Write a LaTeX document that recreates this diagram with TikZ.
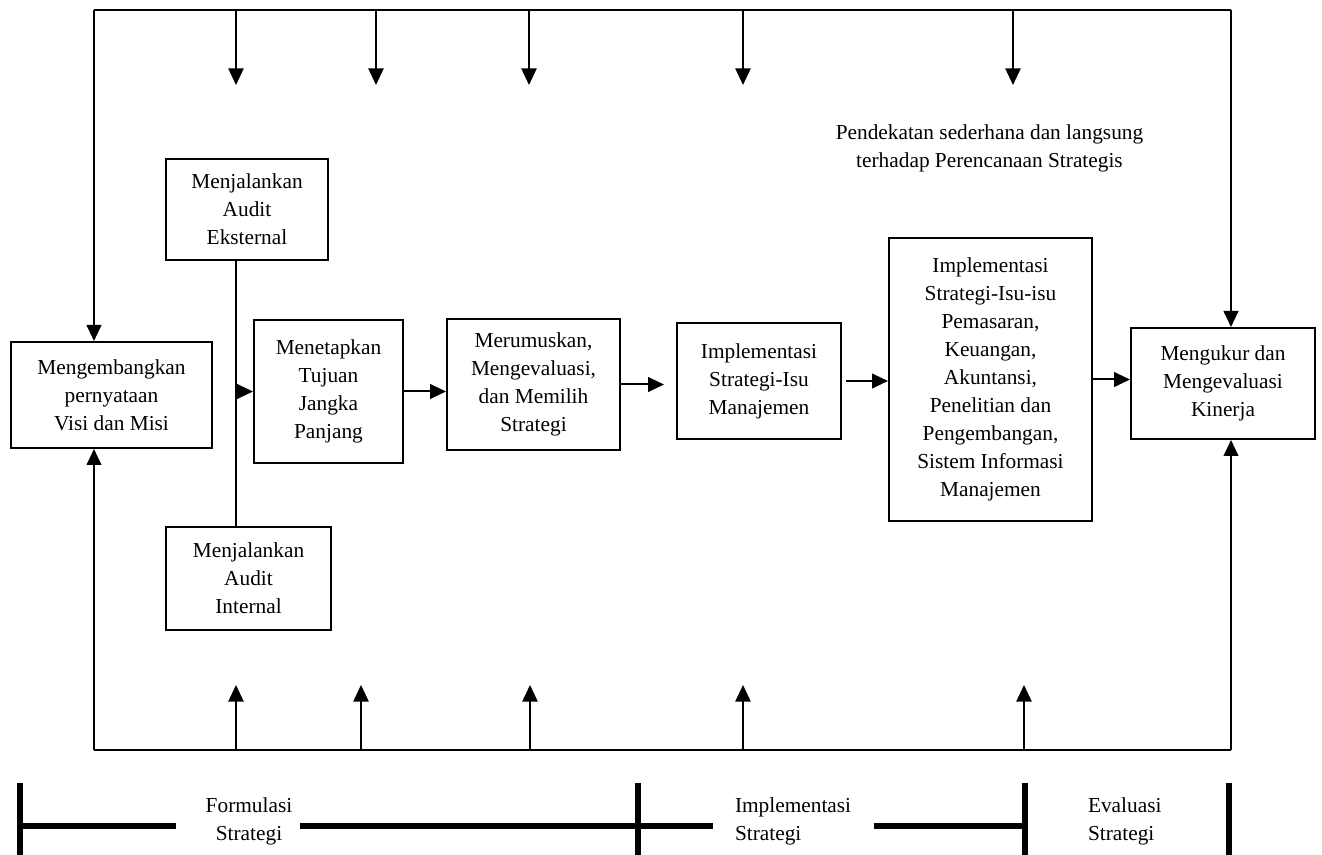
\documentclass[tikz,border=0pt]{standalone}
\usepackage{fontspec}
\setmainfont{Liberation Serif}
\usetikzlibrary{arrows.meta}

\begin{document}
\begin{tikzpicture}[x=0.75pt, y=-0.75pt, line width=1.5pt]

		%文字の大きさ
		\fontsize{16}{21}\selectfont
		\useasboundingbox (0,0) rectangle (1322,855); %余白ごと大きさを決める
		\tikzset{
			styleBox/.style 2 args={
				draw, align=center, inner sep=2pt, line width=1.5pt,
				minimum width={0.75pt*#1}, minimum height={0.75pt*#2}
			},		%四角の箱 (幅, 高さ)
			styleArrow/.style={-{Triangle[length=12pt, width=11pt]}},
			styleThinArrow/.style={line width=1.2pt, -{Triangle[length=12.5pt, width=11.5pt]}},
			styleBar/.style={line width=4pt}
		};

		%外枠の角
		\coordinate (tl) at (94, 10);
		\coordinate (tr) at (1231, 10);
		\coordinate (bl) at (94, 750);
		\coordinate (br) at (1231, 750);

		%箱を書く(中心に名前をつける)
		\node [styleBox={201}{106}] (visi) at (111.5, 395)
			{Mengembangkan\\pernyataan\\Visi dan Misi};
		\node [styleBox={162}{101}] (ekst) at (247, 209.5)
			{Menjalankan\\Audit\\Eksternal};
		\node [styleBox={165}{103}] (intern) at (248.5, 578.5)
			{Menjalankan\\Audit\\Internal};
		\node [styleBox={149}{143}] (tujuan) at (328.5, 391.5)
			{Menetapkan\\Tujuan\\Jangka\\Panjang};
		\node [styleBox={173}{131}] (rumus) at (533.5, 384.5)
			{Merumuskan,\\Mengevaluasi,\\dan Memilih\\Strategi};
		\node [styleBox={164}{116}] (manaj) at (759, 381)
			{Implementasi\\Strategi-Isu\\Manajemen};
		\node [styleBox={203}{283}] (fungsi) at (990.5, 379.5)
			{Implementasi\\Strategi-Isu-isu\\Pemasaran,\\Keuangan,\\Akuntansi,\\Penelitian dan\\Pengembangan,\\Sistem Informasi\\Manajemen};
		\node [styleBox={184}{111}] (ukur) at (1223, 383.5)
			{Mengukur dan\\Mengevaluasi\\Kinerja};

		%説明の文
		\node [align=center] (pendekatan) at (989.5, 148)
			{Pendekatan sederhana dan langsung\\terhadap Perencanaan Strategis};

		%外枠
		\draw (tl) -- (tr);
		\draw (bl) -- (br);
		\draw [styleArrow] (tl) -- (tl |- visi.north);
		\draw [styleArrow] (bl) -- (bl |- visi.south);
		\draw [styleArrow] (tr) -- (tr |- ukur.north);
		\draw [styleArrow] (br) -- (br |- ukur.south);

		%上の矢印と下の矢印
		\foreach \x in {236, 376, 529, 743, 1013} {
			\coordinate (top\x) at (\x, 85);
			\draw [styleThinArrow] (tl -| top\x) -- (top\x);
		}
		\foreach \x in {236, 361, 530, 743, 1024} {
			\coordinate (bot\x) at (\x, 685);
			\draw [styleThinArrow] (bl -| bot\x) -- (bot\x);
		}

		%監査の線
		\coordinate (audit) at (236, 391.5);
		\draw (audit |- ekst.south) -- (audit |- intern.north);
		\draw [styleArrow] (audit) -- (tujuan.west);

		%流れの矢印
		\draw [styleArrow] (tujuan.east) -- (tujuan.east -| rumus.west);
		\draw [styleArrow] (rumus.east) -- ++(43, 0);
		\draw [styleArrow] ([xshift=3pt]manaj.east) -- (manaj.east -| fungsi.west);
		\draw [styleArrow] (fungsi.east) -- (fungsi.east -| ukur.west);

		%下の段階
		\foreach \x in {20, 638, 1025, 1229} {
			\draw [styleBar] (\x, 783) -- (\x, 855);
		}
		\draw [styleBar] (20, 826) -- (176, 826);
		\draw [styleBar] (300, 826) -- (713, 826);
		\draw [styleBar] (874, 826) -- (1025, 826);

		\node [align=center] (formulasi) at (249, 821) {Formulasi\\Strategi};
		\node [align=left, anchor=west, inner sep=0pt] (implementasi) at (734, 821) {Implementasi\\Strategi};
		\node [align=left, anchor=west, inner sep=0pt] (evaluasi) at (1087, 821) {Evaluasi\\Strategi};

\end{tikzpicture}
\end{document}
